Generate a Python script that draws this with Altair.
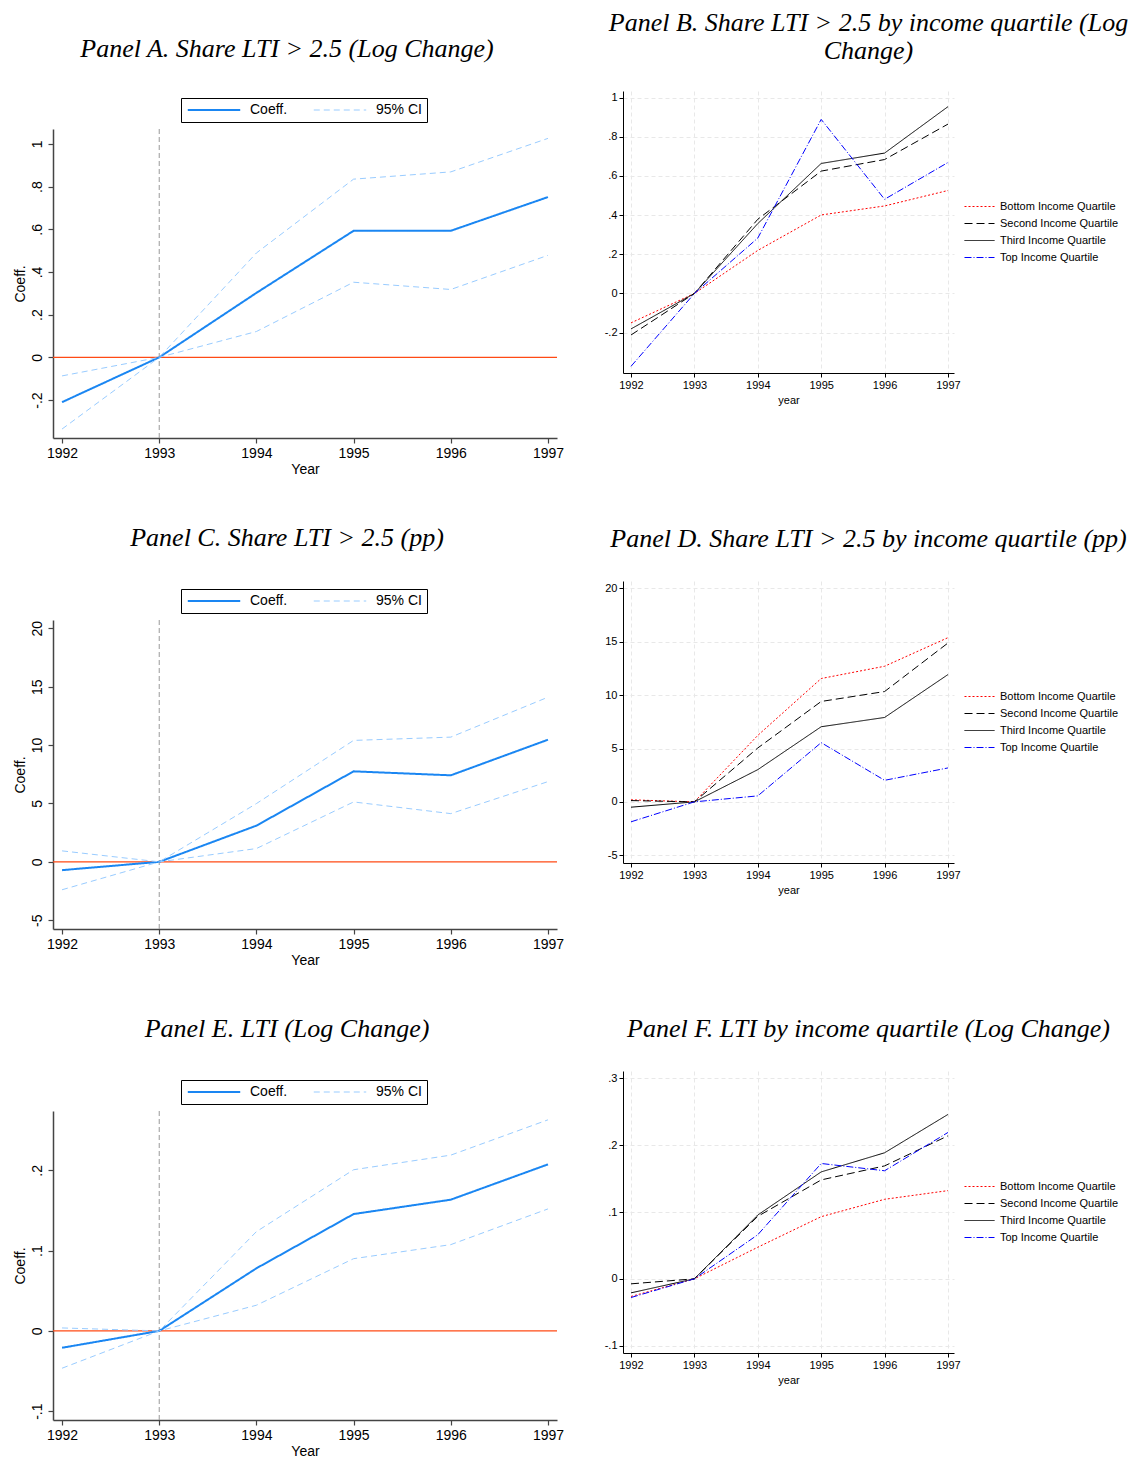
import altair as alt
import pandas as pd

years = [1992, 1993, 1994, 1995, 1996, 1997]

# Panel A: Share LTI > 2.5 (Log Change)
a_coef = [-0.210, 0.0, 0.302, 0.593, 0.593, 0.751]
a_hi = [-0.087, 0.0, 0.489, 0.835, 0.869, 1.026]
a_lo = [-0.336, 0.0, 0.121, 0.352, 0.318, 0.478]

# Panel C: Share LTI > 2.5 (pp)
c_coef = [-0.71, 0.0, 3.10, 7.75, 7.41, 10.46]
c_hi = [0.94, 0.0, 4.99, 10.40, 10.68, 14.10]
c_lo = [-2.39, 0.0, 1.14, 5.13, 4.13, 6.87]

# Panel E: LTI (Log Change)
e_coef = [-0.0210, 0.0, 0.0780, 0.1456, 0.1635, 0.2075]
e_hi = [0.0037, 0.0, 0.1237, 0.2008, 0.2190, 0.2630]
e_lo = [-0.0465, 0.0, 0.0320, 0.0900, 0.1075, 0.1520]

quartiles = ["Bottom Income Quartile", "Second Income Quartile",
             "Third Income Quartile", "Top Income Quartile"]

# Panel B: Share LTI > 2.5 by income quartile (Log Change)
b_bottom = [-0.150, 0.0, 0.220, 0.401, 0.447, 0.526]
b_second = [-0.212, 0.0, 0.379, 0.625, 0.684, 0.865]
b_third = [-0.181, 0.0, 0.357, 0.664, 0.717, 0.954]
b_top = [-0.372, 0.0, 0.283, 0.889, 0.481, 0.669]

# Panel D: Share LTI > 2.5 by income quartile (pp)
d_bottom = [0.19, 0.0, 6.23, 11.56, 12.71, 15.39]
d_second = [0.12, 0.0, 5.05, 9.41, 10.34, 14.89]
d_third = [-0.50, 0.0, 3.02, 7.04, 7.91, 11.93]
d_top = [-1.87, 0.0, 0.56, 5.55, 2.02, 3.18]

# Panel F: LTI by income quartile (Log Change)
f_bottom = [-0.0264, 0.0, 0.0473, 0.0930, 0.1190, 0.1320]
f_second = [-0.0075, 0.0, 0.0935, 0.1480, 0.1690, 0.2140]
f_third = [-0.0210, 0.0, 0.0955, 0.1600, 0.1886, 0.2460]
f_top = [-0.0280, 0.0, 0.0660, 0.1726, 0.1617, 0.2190]

BLUE = "#1A86F2"
LIGHT = "#99CCFF"
ZERO = "#FF4A14"
TITLE_FONT = "Liberation Serif"
SANS = "Liberation Sans"

STATA_LABEL = ("datum.value == 0 ? '0' : (datum.value < 0 ? '-' : '') + "
               "replace(format(abs(datum.value), '~g'), '0.', '.')")

L_W, L_H = 504, 309
R_W, R_H = 331, 282


def title_params(lines, offset, dx, line_height=30):
    return alt.TitleParams(text=lines, font=TITLE_FONT, fontSize=26, fontStyle="italic",
                           fontWeight="normal", color="black", anchor="middle",
                           frame="group", lineHeight=line_height, offset=offset, dx=dx)


def title_strip(lines, height, offset):
    # empty spacer view that carries the panel title above a coefficient panel
    d = pd.DataFrame({"v": [0]})
    return alt.Chart(d).mark_point(opacity=0, size=1).encode(
        x=alt.X("v:Q", axis=None, scale=alt.Scale(domain=[0, 1])),
        y=alt.Y("v:Q", axis=None, scale=alt.Scale(domain=[0, 1])),
    ).properties(width=L_W, height=height, title=title_params(lines, offset, -18))


def coef_panel(lines, coef, hi, lo, ydom, yvals, title_offset=None):
    rows = []
    for key, series, vals in [("coef", "Coeff.", coef), ("hi", "95% CI", hi), ("lo", "95% CI", lo)]:
        for yr, v in zip(years, vals):
            rows.append({"year": yr, "value": v, "series": series, "line": key})
    df = pd.DataFrame(rows)
    xs = alt.Scale(domain=[1991.907, 1997.093], nice=False, zero=False)
    ys = alt.Scale(domain=ydom, nice=False, zero=False)
    xaxis = alt.Axis(values=years, format="d", title="Year", grid=False, labelFlush=False,
                     labelFontSize=14, titleFontSize=14, tickSize=5, labelPadding=3,
                     titlePadding=2, domainColor="#444444", tickColor="#444444",
                     domainWidth=1.5, tickWidth=1.2, labelColor="black", titleColor="black",
                     labelOverlap=False)
    yaxis = alt.Axis(values=yvals, title="Coeff.", grid=False, labelExpr=STATA_LABEL,
                     labelAngle=270, labelAlign="center", labelBaseline="bottom",
                     labelFontSize=14, titleFontSize=14, tickSize=5, labelPadding=4,
                     titlePadding=3, domainColor="#444444", tickColor="#444444",
                     domainWidth=1.5, tickWidth=1.2, labelColor="black", titleColor="black",
                     labelOverlap=False, labelFlush=False)
    dom = ["Coeff.", "95% CI"]
    leg = alt.Legend(title=None, orient="none", legendX=128, legendY=-31,
                     direction="horizontal", symbolType="M-5,0H5", symbolSize=110,
                     symbolOffset=21, labelOffset=29, columnPadding=23, padding=5,
                     strokeColor="black", fillColor="white", labelFontSize=14,
                     labelFont=SANS, labelColor="black", cornerRadius=0)
    lines_ch = alt.Chart(df).mark_line().encode(
        x=alt.X("year:Q", scale=xs, axis=xaxis),
        y=alt.Y("value:Q", scale=ys, axis=yaxis),
        color=alt.Color("series:N", scale=alt.Scale(domain=dom, range=[BLUE, LIGHT]), legend=leg),
        strokeDash=alt.StrokeDash("series:N", scale=alt.Scale(domain=dom, range=[[1, 0], [6, 4]]), legend=leg),
        strokeWidth=alt.StrokeWidth("series:N", scale=alt.Scale(domain=dom, range=[2, 1]), legend=leg),
        detail="line:N",
    )
    vline = alt.Chart(pd.DataFrame({"year": [1993]})).mark_rule(
        color="#999999", strokeDash=[5, 3], strokeWidth=1).encode(
        x=alt.X("year:Q", scale=xs, axis=xaxis))
    zero = alt.Chart(pd.DataFrame({"value": [0]})).mark_rule(
        color=ZERO, strokeWidth=1.2).encode(
        y=alt.Y("value:Q", scale=ys, axis=yaxis))
    layered = alt.layer(vline, zero, lines_ch).properties(width=L_W, height=L_H)
    if lines is not None:
        layered = layered.properties(title=title_params(lines, title_offset, -18))
    return layered


def quart_panel(lines, vals_list, ydom, yvals, title_offset, dx=80, line_height=30):
    rows = []
    for q, vals in zip(quartiles, vals_list):
        for yr, v in zip(years, vals):
            rows.append({"year": yr, "value": v, "series": q})
    df = pd.DataFrame(rows)
    xs = alt.Scale(domain=[1991.874, 1997.095], nice=False, zero=False)
    ys = alt.Scale(domain=ydom, nice=False, zero=False)
    xaxis = alt.Axis(values=years, format="d", title="year", grid=True, gridDash=[4, 3],
                     gridColor="#E8E8E8", labelFlush=False, labelFontSize=11, titleFontSize=11,
                     tickSize=4, labelPadding=2, titlePadding=4, domainColor="black",
                     tickColor="black", labelColor="black", titleColor="black",
                     labelOverlap=False)
    yaxis = alt.Axis(values=yvals, title=None, grid=True, gridDash=[4, 3], gridColor="#E8E8E8",
                     labelExpr=STATA_LABEL, labelFontSize=11, tickSize=4, labelPadding=2,
                     domainColor="black", tickColor="black", labelColor="black",
                     labelOverlap=False, labelFlush=False)
    leg = alt.Legend(title=None, orient="none", legendX=342, legendY=110,
                     direction="vertical", symbolType="M-5,0H5", symbolSize=36,
                     symbolOffset=9, labelOffset=15, rowPadding=5, padding=0,
                     labelFontSize=11, labelFont=SANS, labelColor="black",
                     symbolStrokeWidth=1)
    ch = alt.Chart(df).mark_line(strokeWidth=1).encode(
        x=alt.X("year:Q", scale=xs, axis=xaxis),
        y=alt.Y("value:Q", scale=ys, axis=yaxis),
        color=alt.Color("series:N", scale=alt.Scale(
            domain=quartiles, range=["#FF0000", "#000000", "#000000", "#0000FF"]), legend=leg),
        strokeDash=alt.StrokeDash("series:N", scale=alt.Scale(
            domain=quartiles, range=[[2, 2], [8, 4], [1, 0], [7, 2, 1, 2]]), legend=leg),
    )
    return ch.properties(width=R_W, height=R_H,
                         title=title_params(lines, title_offset, dx, line_height))


tA = title_strip(["Panel A. Share LTI > 2.5 (Log Change)"], 5, 29)
pA = coef_panel(None, a_coef, a_hi, a_lo,
                [-0.378, 1.07], [-0.2, 0, 0.2, 0.4, 0.6, 0.8, 1])
pC = coef_panel(["Panel C. Share LTI > 2.5 (pp)"], c_coef, c_hi, c_lo,
                [-5.75, 20.71], [-5, 0, 5, 10, 15, 20], 38)
pE = coef_panel(["Panel E. LTI (Log Change)"], e_coef, e_hi, e_lo,
                [-0.111, 0.274], [-0.1, 0, 0.1, 0.2], 38)

pB = quart_panel(["Panel B. Share LTI > 2.5 by income quartile (Log", "Change)"],
                 [b_bottom, b_second, b_third, b_top], [-0.406, 1.034],
                 [-0.2, 0, 0.2, 0.4, 0.6, 0.8, 1], 27, line_height=28)
pD = quart_panel(["Panel D. Share LTI > 2.5 by income quartile (pp)"],
                 [d_bottom, d_second, d_third, d_top], [-5.73, 20.7],
                 [-5, 0, 5, 10, 15, 20], 29)
pF = quart_panel(["Panel F. LTI by income quartile (Log Change)"],
                 [f_bottom, f_second, f_third, f_top], [-0.111, 0.311],
                 [-0.1, 0, 0.1, 0.2, 0.3], 29)

RES = dict(x="independent", y="independent", color="independent",
           strokeDash="independent", strokeWidth="independent")
LRES = dict(color="independent", strokeDash="independent", strokeWidth="independent")

topA = alt.vconcat(tA, pA, spacing=0).resolve_scale(**RES).resolve_legend(**LRES)
left = alt.vconcat(topA, pC, pE, spacing=48).resolve_scale(**RES).resolve_legend(**LRES)
right = alt.vconcat(pB, pD, pF, spacing=121).resolve_scale(**RES).resolve_legend(**LRES)

chart = alt.hconcat(left, right, spacing=40).resolve_scale(**RES).resolve_legend(
    **LRES).configure_view(stroke=None).configure_axis(
    labelFont=SANS, titleFont=SANS, titleFontWeight="normal").properties(
    padding={"left": 4, "top": 2, "right": 2, "bottom": 0}, background="white")

chart.save("out.html", embed_options={"renderer": "svg", "actions": False})
